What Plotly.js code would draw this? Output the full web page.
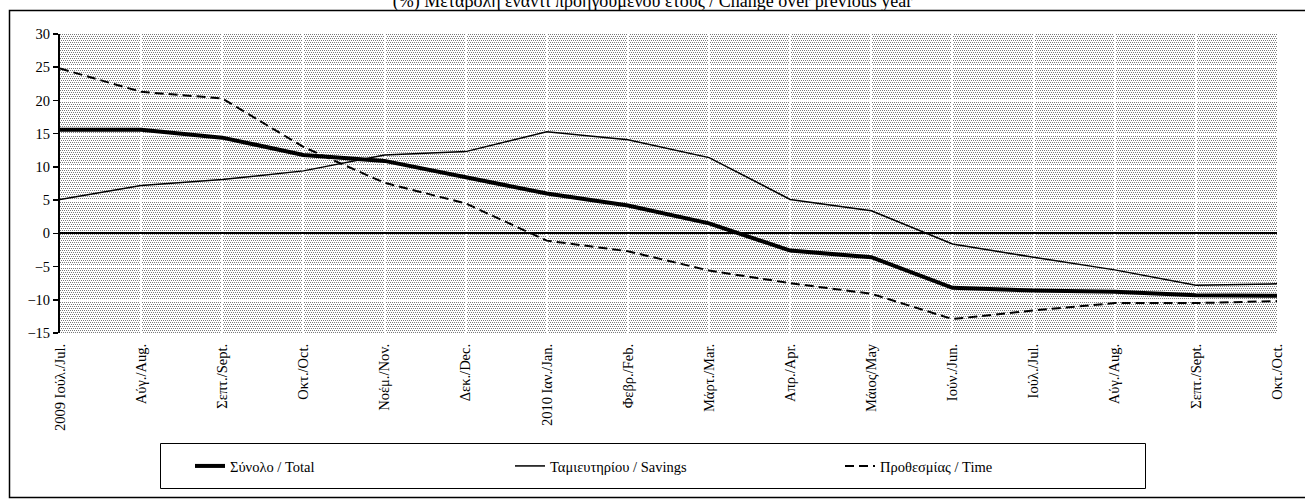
<!DOCTYPE html>
<html>
<head>
<meta charset="utf-8">
<script src="https://cdn.plot.ly/plotly-3.0.1.min.js"></script>
<style>
  html, body { margin: 0; padding: 0; background: #ffffff; }
  #chart { width: 1305px; height: 501px; }
</style>
</head>
<body>
<div id="chart"></div>
<script>
// ---- Data ----
const categories = ["2009 Ιούλ./Jul.", "Αύγ./Aug.", "Σεπτ./Sept.", "Οκτ./Oct.", "Νοέμ./Nov.", "Δεκ./Dec.",
  "2010 Ιαν./Jan.", "Φεβρ./Feb.", "Μάρτ./Mar.", "Απρ./Apr.", "Μάιος/May", "Ιούν./Jun.",
  "Ιούλ./Jul.", "Αύγ./Aug.", "Σεπτ./Sept.", "Οκτ./Oct."];
const totalValues   = [15.6, 15.6, 14.4, 11.8, 10.9, 8.5, 6.0, 4.2, 1.5, -2.6, -3.6, -8.2, -8.6, -8.8, -9.3, -9.4];
const savingsValues = [5.1, 7.2, 8.1, 9.4, 11.8, 12.3, 15.3, 14.1, 11.4, 5.1, 3.4, -1.6, -3.6, -5.5, -7.8, -7.6];
const timeValues    = [24.8, 21.3, 20.3, 13.0, 7.6, 4.5, -1.1, -2.7, -5.6, -7.5, -9.1, -12.9, -11.6, -10.5, -10.5, -10.2];
const seriesNames = ["Σύνολο / Total", "Ταμιευτηρίου / Savings", "Προθεσμίας / Time"];
const yTickValues = [-15, -10, -5, 0, 5, 10, 15, 20, 25, 30];
const chartTitle = "(%) Μεταβολή έναντι προηγούμενου έτους / Change over previous year";

// ---- Geometry ----
const W = 1305, H = 501;
const M = { l: 60, r: 28, t: 34, b: 168 };
const PW = W - M.l - M.r, PH = H - M.t - M.b;
const px2x = p => (p - M.l) / PW;
const py2y = p => (H - M.b - p) / PH;

// stippled plot-area background
function patternURL() {
  const c = document.createElement('canvas');
  c.width = PW; c.height = PH;
  const g = c.getContext('2d');
  g.fillStyle = '#ffffff'; g.fillRect(0, 0, PW, PH);
  g.fillStyle = '#7a7a7a';
  for (let y = 0; y < PH; y += 2) {
    for (let x = (y % 4 === 0 ? 0 : 1); x < PW; x += 2) g.fillRect(x, y, 1, 1);
  }
  return c.toDataURL('image/png');
}

const xIdx = categories.map((_, i) => i);
const font = 'Liberation Serif, Times New Roman, serif';
const FS = 14.5;

const traces = [
  { x: xIdx, y: timeValues, name: seriesNames[2], type: 'scatter', mode: 'lines',
    line: { color: '#000', width: 2, dash: '9px,5px' }, legend: 'legend3', hoverinfo: 'y' },
  { x: xIdx, y: savingsValues, name: seriesNames[1], type: 'scatter', mode: 'lines',
    line: { color: '#000', width: 1.5 }, legend: 'legend2', hoverinfo: 'y' },
  { x: xIdx, y: totalValues, name: seriesNames[0], type: 'scatter', mode: 'lines',
    line: { color: '#000', width: 4 }, legend: 'legend', hoverinfo: 'y' }
];

const legendCommon = { orientation: 'h', yanchor: 'middle', xanchor: 'left',
  bgcolor: 'rgba(0,0,0,0)', borderwidth: 0, font: { family: font, size: FS, color: '#000' } };

const layout = {
  width: W, height: H,
  margin: M,
  paper_bgcolor: '#ffffff',
  plot_bgcolor: 'rgba(0,0,0,0)',
  showlegend: true,
  font: { family: font, size: FS, color: '#000' },
  title: { text: chartTitle, font: { family: font, size: 18, color: '#000' },
    xref: 'container', x: 0.5, xanchor: 'center', yref: 'container', y: 1 - 1 / H, yanchor: 'middle' },
  xaxis: {
    type: 'linear', range: [0, xIdx.length - 1],
    tickmode: 'array', tickvals: xIdx, ticktext: categories,
    tickangle: -90, ticks: '', showline: false, zeroline: false,
    showgrid: true, gridcolor: '#ffffff', gridwidth: 2,
    tickfont: { family: font, size: FS, color: '#000' },
    ticklabelstandoff: 7, fixedrange: true
  },
  xaxis2: {
    type: 'linear', overlaying: 'x', matches: 'x', anchor: 'free', position: (0 - (-15)) / 45,
    range: [0, xIdx.length - 1], tickmode: 'array', tickvals: xIdx,
    ticks: 'outside', ticklen: 4, tickwidth: 1.5, tickcolor: '#000',
    showticklabels: false, showgrid: false, showline: false, zeroline: false
  },
  yaxis: {
    range: [-15, 30], tickmode: 'array', tickvals: yTickValues,
    showline: true, linecolor: '#000', linewidth: 2,
    ticks: 'outside', ticklen: 5, tickwidth: 1.5, tickcolor: '#000',
    showgrid: true, gridcolor: '#ffffff', gridwidth: 2,
    zeroline: true, zerolinecolor: '#000', zerolinewidth: 2,
    tickfont: { family: font, size: FS, color: '#000' }, fixedrange: true
  },
  legend:  Object.assign({}, legendCommon, { x: px2x(190), y: py2y(466) }),
  legend2: Object.assign({}, legendCommon, { x: px2x(510), y: py2y(466) }),
  legend3: Object.assign({}, legendCommon, { x: px2x(840), y: py2y(466) }),
  shapes: [
    { type: 'rect', xref: 'paper', yref: 'paper', x0: px2x(9.5), x1: px2x(1312), y0: py2y(497.5), y1: py2y(10.5),
      line: { color: '#000', width: 1.5 }, fillcolor: 'rgba(0,0,0,0)', layer: 'below' },
    { type: 'rect', xref: 'paper', yref: 'paper', x0: px2x(160.5), x1: px2x(1145.5), y0: py2y(488.5), y1: py2y(443.5),
      line: { color: '#000', width: 1 }, fillcolor: 'rgba(0,0,0,0)', layer: 'below' }
  ],
  images: [
    { source: patternURL(), xref: 'paper', yref: 'paper', x: 0, y: 1, sizex: 1, sizey: 1,
      xanchor: 'left', yanchor: 'top', sizing: 'stretch', layer: 'below' }
  ]
};

Plotly.newPlot('chart', traces, layout, { staticPlot: true, displayModeBar: false });
</script>
</body>
</html>
